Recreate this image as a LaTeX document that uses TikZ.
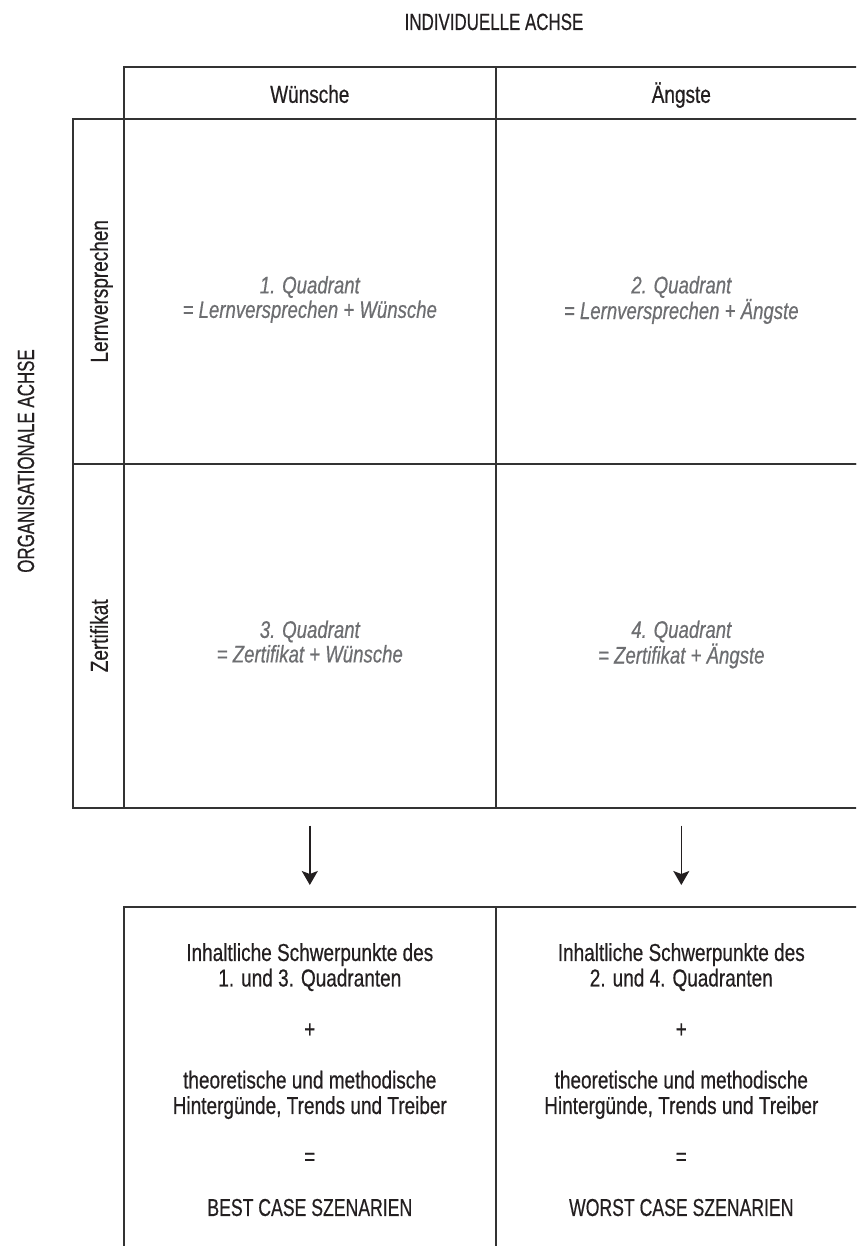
\documentclass[tikz,border=0pt]{standalone}
\usepackage{fontspec}
\setmainfont[FakeStretch=0.775,FakeBold=0.5]{Liberation Sans}
\newfontfamily\capsfont[FakeStretch=0.72,FakeBold=0.5]{Liberation Sans}
\usetikzlibrary{arrows.meta}
\definecolor{ink}{HTML}{231F20}
\definecolor{rulecol}{HTML}{333333}
\definecolor{quadcol}{HTML}{6D6E71}

\begin{document}
\begin{tikzpicture}[x=1pt,y=-1pt,
  cell/.style={draw=rulecol, line width=1.6pt, rectangle, anchor=north west, inner sep=0pt},
  bodytext/.style={text=ink, inner sep=0pt, font=\fontsize{24.5pt}{25.5pt}\selectfont},
  headtext/.style={text=ink, inner sep=0pt, font=\fontsize{24.5pt}{26pt}\selectfont},
  axistext/.style={text=ink, inner sep=0pt, font=\capsfont\fontsize{23.5pt}{24pt}\selectfont},
  quadtext/.style={text=quadcol, inner sep=0pt, align=center, font=\itshape\fontsize{24pt}{24.5pt}\selectfont},
  flow/.style={draw=ink, line width=1.5pt, -{Stealth[length=14pt, width=16pt, inset=3pt]}}]

\useasboundingbox (0,0) rectangle (856,1246);
\clip (0,0) rectangle (856,1246);

% column headers
\node[cell, minimum width=372pt, minimum height=52pt] (h1) at (123,66) {};
\node[cell, minimum width=371pt, minimum height=52pt] (h2) at (495,66) {};

% row labels
\node[cell, minimum width=51pt, minimum height=345pt] (r1) at (72,118) {};
\node[cell, minimum width=51pt, minimum height=344pt] (r2) at (72,463) {};

% quadrants
\node[cell, minimum width=372pt, minimum height=345pt] (q1) at (123,118) {};
\node[cell, minimum width=371pt, minimum height=345pt] (q2) at (495,118) {};
\node[cell, minimum width=372pt, minimum height=344pt] (q3) at (123,463) {};
\node[cell, minimum width=371pt, minimum height=344pt] (q4) at (495,463) {};

% result boxes
\node[cell, minimum width=372pt, minimum height=360pt] (b1) at (123,906) {};
\node[cell, minimum width=371pt, minimum height=360pt] (b2) at (495,906) {};

% axis titles
\node[axistext, anchor=base] (indiv) at (494,30) {INDIVIDUELLE ACHSE};
\node[axistext, anchor=base, rotate=90] (orga) at (34,461) {ORGANISATIONALE ACHSE};

% header and row texts
\node[headtext, anchor=base] (tw) at ([yshift=-10pt]h1.center) {Wünsche};
\node[headtext, anchor=base] (ta) at ([yshift=-10pt]h2.center) {Ängste};
\node[headtext, anchor=base, rotate=90] (tl) at ([xshift=9.5pt]r1.center) {Lernversprechen};
\node[headtext, anchor=base, rotate=90] (tz) at ([xshift=9.5pt]r2.center) {Zertifikat};

% quadrant texts
\node[quadtext, anchor=north] (t1) at ([yshift=15.5pt]q1.center) {1. Quadrant\\= Lernversprechen + Wünsche};
\node[quadtext, anchor=north] (t2) at ([yshift=15.5pt]q2.center) {2. Quadrant\\= Lernversprechen + Ängste};
\node[quadtext, anchor=north] (t3) at ([yshift=15.5pt]q3.center) {3. Quadrant\\= Zertifikat + Wünsche};
\node[quadtext, anchor=north] (t4) at ([yshift=15.5pt]q4.center) {4. Quadrant\\= Zertifikat + Ängste};

% arrows into the result boxes
\draw[flow, shorten <=17pt, shorten >=21pt] (q3.south) -- (b1.north);
\draw[flow, shorten <=17pt, shorten >=21pt] (q4.south) -- (b2.north);

% result texts
\node[bodytext, align=center, anchor=north] (s1) at ([yshift=-37pt]b1.north)
  {Inhaltliche Schwerpunkte des\\1. und 3. Quadranten\\ \\+\\ \\theoretische und methodische\\Hintergünde, Trends und Treiber\\ \\=\\ \\{\capsfont BEST CASE SZENARIEN}};
\node[bodytext, align=center, anchor=north] (s2) at ([yshift=-37pt]b2.north)
  {Inhaltliche Schwerpunkte des\\2. und 4. Quadranten\\ \\+\\ \\theoretische und methodische\\Hintergünde, Trends und Treiber\\ \\=\\ \\{\capsfont WORST CASE SZENARIEN}};
\end{tikzpicture}
\end{document}
